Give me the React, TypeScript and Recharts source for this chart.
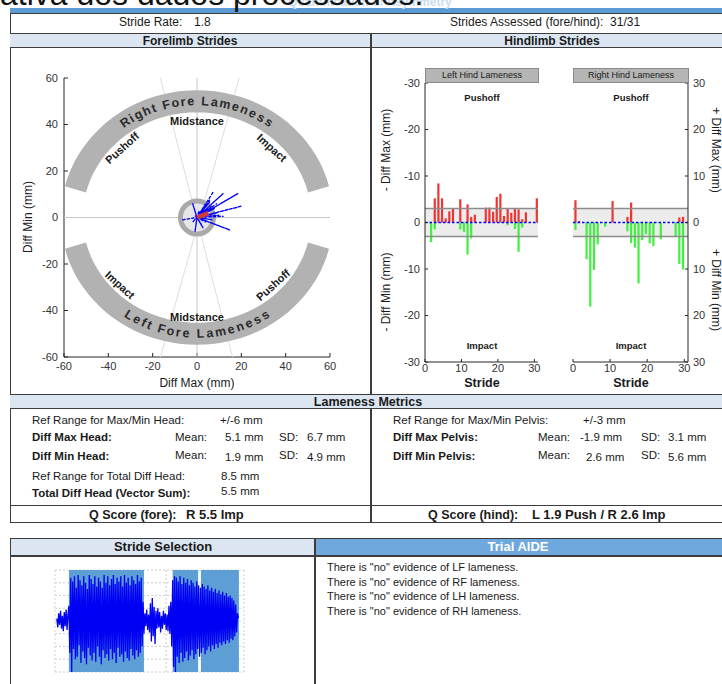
import React from "react";
import {
  ComposedChart,
  Scatter,
  Bar,
  Line,
  XAxis,
  YAxis,
  ReferenceArea,
  ReferenceLine,
  CartesianGrid,
} from "recharts";

const SANS = '"Liberation Sans", Arial, Helvetica, sans-serif';
const AXIS = "#262626";

// ---- forelimb strides (head): diff max on x, diff min on y, mm
const foreDiffMax = [7.4, 11.9, 18.6, 20.1, 14.9, 2.8, -0.9, -2.0, -6.9, 6, 5, 7, 8, 4, 6, 9, 3, 5, 10, 7, 4, 2, 1, -2, 3, 12, 2, -1, 4, 9, 6];
const foreDiffMin = [11.1, 10.4, 10.4, 4.9, -5.4, -4.6, -6.1, 6.1, -1.1, 7, 6, 5, 4, 6, 3, 2, 4, 1, 1, -1, -2, -3, 3, -2, -0.5, 0.5, 2, 1, 2, 6, 8];
const foreMean = [5.1, 1.9];
const foreTicks = [-60, -40, -20, 0, 20, 40, 60];

const phaseLabels = [
  { x: 0, y: 41.5, label: "Midstance", rot: 0 },
  { x: -33.8, y: 30, label: "Pushoff", rot: -42 },
  { x: 33.8, y: 30, label: "Impact", rot: 42 },
  { x: -34.7, y: -29, label: "Impact", rot: 42 },
  { x: 34.3, y: -29, label: "Pushoff", rot: -42 },
  { x: 0, y: -42.8, label: "Midstance", rot: 0 },
];

// ---- hindlimb strides (pelvis), mm
const strides = Array.from({ length: 31 }, (_, i) => i + 1);
const leftHindUp = [0, 0, 5.2, 8.4, 5.2, 0.9, 2.4, 3.0, 0, 5.0, 0, 3.9, 1.2, 1.7, 0, 0, 3.2, 3.2, 2.3, 5.5, 6.2, 1.4, 2.9, 2.1, 3.0, 2.8, 0.7, 2.2, 0, 0, 5.2];
const leftHindDown = [0, -4.2, -1.5, 0, 0, 0, 0, 0, 0, -1.5, -2.0, -6.9, -3.4, 0, 0, 0, 0, 0, 0, 0, 0, 0, -0.6, 0, -1.4, -6.3, -1.1, 0, 0, 0, 0];
const rightHindUp = [4.8, 0.3, 0, 0, 0, 0, 0, 0, 0, 0, 4.6, 0, 0, 0, 1.2, 4.3, 0, 0, 0, 0, 0, 0, 0, 0, 0, 0, 0, 0, 1.1, 1.2, 0];
const rightHindDown = [-1.6, 0, 0, -7.9, -18.1, -10.2, -4.7, 0, -0.9, 0, 0, 0, 0, 0, -1.9, -4.4, -5.4, -13.1, -3.8, -2.5, -4.5, -5.1, 0, -3.6, 0, 0, 0, -3.1, -8.9, -10.1, 0];
const hindTicks = [-30, -20, -10, 0, 10, 20, 30];
const strideTicks = [0, 10, 20, 30];

// ---- stride selection trace (samples from t = 2)
const trace = [
  0.2, -0.5, 0.6, -0.3, 0.8, -0.6, 0.4, -0.8, 0.7, -0.4, 0.9, -0.7, 0.5,
  1.2, -2.5, 3.4, -4.0, 3.1, -2.2, 3.5, -3.0, 2.6, -2.8,
  3.6, -1.9, 3.2, -3.3, 2.8, -2.4, 3.5, -2.9, 3.0, -3.4,
  2.5, -2.1, 3.6, -2.7, 3.3, -3.1, 2.9, -2.5, 3.5, -3.2,
  2.7, -2.0, 3.4, -2.8, 3.1, -3.4, 2.6, -2.3, 3.6, -2.9,
  3.0, -2.6, 3.5, -3.1, 2.8, -2.2, 3.3, -3.0, 3.6, -2.5,
  2.9, -3.3, 3.4, -2.1, 3.1, -2.8, 3.5, -2.6, 2.7, -3.2,
  3.6, -2.4, 3.0, -2.9, 3.4, -3.1, 2.8, -2.2, 3.5, -2.7,
  3.2, -3.0, 2.9, -2.3, 3.6, -2.8, 3.1, -2.5, 3.4, -2.0,
  1.5, -1.0,
  0.6, -0.4, 0.9, -0.7, 0.5, -0.9, 1.4, -1.6, 1.8, -1.2,
  1.1, -1.8, 0.8, -0.6, 1.0, -0.5, 0.7, -0.9, 0.4, -0.6,
  0.8, -0.3, 0.6, -0.7, 0.5, -0.8, 1.2, -1.0, 1.5,
  -2.0, 3.2, -3.6, 3.5, -4.0, 3.4, -2.8, 3.1, -3.3, 3.5,
  -2.5, 2.9, -3.2, 3.4, -2.9, 3.0, -2.4, 3.3, -3.1, 2.8,
  -2.7, 3.2, -2.3, 3.0, -3.0, 2.7, -2.6, 3.1, -2.2, 2.8,
  -2.8, 2.6, -2.5, 2.9, -2.1, 2.7, -2.6, 2.5, -2.3, 2.8,
  -2.0, 2.4, -2.4, 2.6, -1.9, 2.3, -2.2, 2.5, -1.8, 2.2,
  -2.1, 2.4, -1.7, 2.1, -1.9, 2.3, -1.6, 2.0, -1.8, 2.2,
  -1.5, 1.9, -1.7, 2.0, -1.4, 1.8, -1.5, 1.6, -1.2, 1.3,
  -0.9, 0.6, 0.2,
];
const selectedRanges = [
  [15, 96],
  [127, 154.5],
  [157.5, 198.5],
];

const aideLines = [
  'There is "no" evidence of LF lameness.',
  'There is "no" evidence of RF lameness.',
  'There is "no" evidence of LH lameness.',
  'There is "no" evidence of RH lameness.',
];

// ---- geometry helpers for the lameness arcs
const RX = 56.5;
const RY = 50;
const arc = (a0: number, a1: number) =>
  Array.from({ length: 41 }, (_, i) => {
    const a = ((a0 + ((a1 - a0) * i) / 40) * Math.PI) / 180;
    return { x: RX * Math.cos(a), y: RY * Math.sin(a) };
  });
const charW = (ch: string) => (ch === " " ? 0.55 : "ifrtl".includes(ch) ? 0.65 : "mM".includes(ch) ? 1.3 : 1);
const arcText = (text: string, a0: number, a1: number, top: boolean) => {
  const chars = text.split("");
  const w = chars.map(charW);
  const total = w.reduce((s, v) => s + v, 0) - (w[0] + w[w.length - 1]) / 2;
  let acc = 0;
  return chars.map((ch, i) => {
    if (i > 0) acc += (w[i - 1] + w[i]) / 2;
    const a = a0 + ((a1 - a0) * acc) / total;
    const r = (a * Math.PI) / 180;
    return { x: RX * Math.cos(r), y: RY * Math.sin(r), ch, rot: top ? 90 - a : 270 - a };
  });
};

const T = ({ x, y, s = 11.5, b = false, a = "start", c = "#1a1a1a", children }: any) => (
  <div
    style={{
      position: "absolute",
      left: x,
      top: y - s * 0.6,
      fontSize: s,
      lineHeight: `${s * 1.2}px`,
      fontWeight: b ? "bold" : "normal",
      color: c,
      whiteSpace: "pre",
      transform: a === "middle" ? "translateX(-50%)" : a === "end" ? "translateX(-100%)" : undefined,
    }}
  >
    {children}
  </div>
);

const RT = ({ x, y, s = 12, rot = -90, b = false, children }: any) => (
  <div
    style={{
      position: "absolute",
      left: x,
      top: y,
      fontSize: s,
      lineHeight: `${s * 1.2}px`,
      fontWeight: b ? "bold" : "normal",
      color: "#1a1a1a",
      whiteSpace: "pre",
      transform: `translate(-50%, -50%) rotate(${rot}deg)`,
    }}
  >
    {children}
  </div>
);

const Box = ({ x, y, w, h, bg = "transparent", style }: any) => (
  <div style={{ position: "absolute", left: x, top: y, width: w, height: h, background: bg, ...style }} />
);

const noLine = () => null;
const tick11 = { fontSize: 11, fill: "#333", fontFamily: SANS };

function ForelimbChart() {
  const star = foreDiffMax.flatMap((x, i) => [
    { x: 0, y: 0 },
    { x, y: foreDiffMin[i] },
  ]);
  const mean = [
    { x: 0, y: 0 },
    { x: foreMean[0], y: foreMean[1] },
  ];
  const letterShape = (p: any) => (
    <text
      x={p.cx}
      y={p.cy}
      textAnchor="middle"
      dominantBaseline="central"
      transform={`rotate(${p.payload.rot} ${p.cx} ${p.cy})`}
      fontSize={12.5}
      fontWeight="bold"
      fontFamily={SANS}
      fill="#2a2a2a"
    >
      {p.payload.ch}
    </text>
  );
  const phaseShape = (p: any) => (
    <text
      x={p.cx}
      y={p.cy}
      textAnchor="middle"
      dominantBaseline="central"
      transform={`rotate(${p.payload.rot} ${p.cx} ${p.cy})`}
      fontSize={11}
      fontWeight="bold"
      fontFamily={SANS}
      fill="#1a1a1a"
    >
      {p.payload.label}
    </text>
  );
  const guide = (stroke: string) => ({ stroke, strokeWidth: 1 });
  return (
    <ComposedChart width={361} height={347} margin={{ top: 30, right: 41, bottom: 18, left: 24 }}>
      <XAxis type="number" dataKey="x" domain={[-60, 60]} ticks={foreTicks} allowDataOverflow height={20}
        tickSize={-4} tickMargin={9} stroke={AXIS} tick={tick11} />
      <XAxis xAxisId="top" orientation="top" type="number" dataKey="x" domain={[-60, 60]} ticks={foreTicks}
        height={0} tickSize={-4} tickFormatter={() => ""} stroke={AXIS} />
      <YAxis type="number" dataKey="y" domain={[-60, 60]} ticks={foreTicks} allowDataOverflow width={30}
        tickSize={-4} tickMargin={10} stroke={AXIS} tick={tick11} />
      <YAxis yAxisId="right" orientation="right" type="number" dataKey="y" domain={[-60, 60]} ticks={foreTicks}
        width={0} tickSize={-4} tickFormatter={() => ""} stroke={AXIS} />
      <Scatter data={[{ x: -60, y: 0 }, { x: 60, y: 0 }]} line={guide("#c8c8c8")} lineType="joint" shape={noLine} isAnimationActive={false} />
      <Scatter data={[{ x: 0, y: -60 }, { x: 0, y: 60 }]} line={guide("#c8c8c8")} lineType="joint" shape={noLine} isAnimationActive={false} />
      <Scatter data={[{ x: -16.5, y: 60 }, { x: 16, y: -60 }]} line={guide("#dedede")} lineType="joint" shape={noLine} isAnimationActive={false} />
      <Scatter data={[{ x: 19, y: 60 }, { x: -16.5, y: -60 }]} line={guide("#dedede")} lineType="joint" shape={noLine} isAnimationActive={false} />
      <Scatter data={arc(14, 166)} line={{ stroke: "#b2b2b2", strokeWidth: 22 }} lineType="joint" shape={noLine} isAnimationActive={false} />
      <Scatter data={arc(194, 346)} line={{ stroke: "#b2b2b2", strokeWidth: 22 }} lineType="joint" shape={noLine} isAnimationActive={false} />
      <Scatter data={arcText("Right Fore Lameness", 125, 55, true)} shape={letterShape} isAnimationActive={false} />
      <Scatter data={arcText("Left Fore Lameness", 237, 303, false)} shape={letterShape} isAnimationActive={false} />
      <Scatter data={phaseLabels} shape={phaseShape} isAnimationActive={false} />
      <Scatter data={[{ x: 0, y: 0 }]} isAnimationActive={false}
        shape={(p: any) => <circle cx={p.cx} cy={p.cy} r={16.5} fill="#e6e6e6" stroke="#a9a9a9" strokeWidth={5} />} />
      <Scatter data={star} line={{ stroke: "#0000ff", strokeWidth: 1.3, strokeDasharray: "3 1.5" }} lineType="joint" shape={noLine} isAnimationActive={false} />
      <Scatter data={mean} line={{ stroke: "#d33a3a", strokeWidth: 4.5 }} lineType="joint" shape={noLine} isAnimationActive={false} />
    </ComposedChart>
  );
}

function HindChart({ up, down, side }: { up: number[]; down: number[]; side: "left" | "right" }) {
  const data = strides.map((s, i) => ({ s, up: up[i], down: down[i] }));
  const isLeft = side === "left";
  const labelFmt = (v: number) => (isLeft ? (v === 0 ? "0" : `-${Math.abs(v)}`) : `${Math.abs(v)}`);
  return (
    <ComposedChart
      width={isLeft ? 180 : 170}
      height={347}
      data={data}
      stackOffset="sign"
      margin={isLeft ? { top: 35, right: 14, bottom: 17, left: 27 } : { top: 35, right: 8, bottom: 17, left: 21 }}
    >
      <XAxis type="number" dataKey={(d: any) => d.s - 0.4} domain={[0, 31]} ticks={strideTicks} allowDataOverflow
        height={16} tickSize={-3} tickMargin={5} stroke={AXIS} tick={tick11} />
      <XAxis xAxisId="top" orientation="top" type="number" domain={[0, 31]} height={0} tick={false} stroke={AXIS} />
      <YAxis type="number" orientation={side} domain={[-30, 30]} ticks={hindTicks} allowDataOverflow width={26}
        tickSize={-3} tickMargin={8} tickFormatter={labelFmt} stroke={AXIS} tick={tick11} />
      <YAxis yAxisId="other" orientation={isLeft ? "right" : "left"} type="number" domain={[-30, 30]} ticks={hindTicks}
        width={0} tickSize={-3} tickFormatter={() => ""} stroke={isLeft ? AXIS : "#777"} />
      <ReferenceArea y1={-3} y2={3} fill="#ececec" fillOpacity={1} stroke="none" />
      <ReferenceLine y={3} stroke="#8c8c8c" strokeWidth={1.5} />
      <ReferenceLine y={-3} stroke="#8c8c8c" strokeWidth={1.5} />
      <Bar dataKey="up" stackId="s" fill="#f03434" barSize={2.2} isAnimationActive={false} />
      <Bar dataKey="down" stackId="s" fill="#3ff03f" barSize={2.2} isAnimationActive={false} />
      <ReferenceLine y={0} stroke="#0000ff" strokeWidth={1.5} strokeDasharray="2.5 2" />
    </ComposedChart>
  );
}

function TraceChart() {
  const data = trace.map((v, i) => ({ t: i + 2, v }));
  return (
    <ComposedChart width={220} height={120} data={data} margin={{ top: 10, right: 16, bottom: 8, left: 15 }}>
      <CartesianGrid stroke="#cfcfcf" strokeDasharray="2 2" />
      <XAxis type="number" dataKey="t" domain={[0, 204]} ticks={[0, 60, 120, 180]} height={0} tickSize={-3}
        tickFormatter={() => ""} stroke="#7a7a7a" />
      <XAxis xAxisId="top" orientation="top" type="number" domain={[0, 204]} ticks={[0, 60, 120, 180]} height={0}
        tickSize={-3} tickFormatter={() => ""} stroke="#7a7a7a" />
      <YAxis type="number" domain={[-4, 4]} ticks={[-4, -3, -2, -1, 0, 1, 2, 3, 4]} width={0} tickSize={-3}
        tickFormatter={() => ""} stroke="#7a7a7a" />
      <YAxis yAxisId="right" orientation="right" type="number" domain={[-4, 4]} ticks={[-4, -3, -2, -1, 0, 1, 2, 3, 4]}
        width={0} tickSize={-3} tickFormatter={() => ""} stroke="#7a7a7a" />
      {selectedRanges.map(([a, b]) => (
        <ReferenceArea key={a} x1={a} x2={b} y1={-4} y2={4} fill="#5d9fd4" fillOpacity={1} stroke="none" />
      ))}
      <Line dataKey="v" stroke="#0000f5" strokeWidth={1.3} dot={false} isAnimationActive={false} />
    </ComposedChart>
  );
}

export default function App() {
  const border = "#3c3c3c";
  const headBg = "#dce6f2";
  return (
    <div style={{ position: "absolute", left: 0, top: 0, width: 722, height: 684, overflow: "hidden", background: "#fff", fontFamily: SANS }}>
      {/* page heading remnants */}
      <Box x={10} y={8} w={720} h={5} bg="#5b9bd5" />
      <T x={370} y={2} s={12} b a="middle" c="#c9dcf0">Quantification of Asymmetry</T>
      <div style={{ position: "absolute", left: 0, top: -22, fontSize: 32, lineHeight: "32px", color: "#111", whiteSpace: "pre" }}>
        ativa dos dados processados.
      </div>

      {/* main table frame */}
      <Box x={10} y={13} w={720} h={510} style={{ border: `1.5px solid ${border}`, boxSizing: "border-box" }} />
      <Box x={10} y={33} w={720} h={15} bg={headBg} style={{ borderTop: `1.5px solid ${border}`, borderBottom: `1.5px solid ${border}`, boxSizing: "border-box" }} />
      <Box x={10} y={394} w={720} h={15} bg={headBg} style={{ borderTop: `1.5px solid ${border}`, borderBottom: `1px solid ${border}`, boxSizing: "border-box" }} />
      <Box x={10} y={505} w={720} h={2} style={{ borderTop: `1.5px solid ${border}` }} />
      <Box x={370} y={33} w={2} h={362} bg={border} />
      <Box x={370} y={409} w={2} h={114} bg={border} />

      <T x={119} y={22} s={12}>Stride Rate:</T>
      <T x={194} y={22} s={12}>1.8</T>
      <T x={450} y={22} s={12}>{"Strides Assessed (fore/hind):  31/31"}</T>
      <T x={190} y={41} s={12} b a="middle">Forelimb Strides</T>
      <T x={552} y={41} s={12} b a="middle">Hindlimb Strides</T>

      {/* forelimb */}
      <div style={{ position: "absolute", left: 10, top: 48 }}>
        <ForelimbChart />
      </div>
      <RT x={28} y={217} s={12}>Diff Min (mm)</RT>
      <T x={197} y={383} s={12} a="middle">Diff Max (mm)</T>

      {/* hindlimb */}
      <div style={{ position: "absolute", left: 372, top: 48 }}>
        <HindChart up={leftHindUp} down={leftHindDown} side="left" />
      </div>
      <div style={{ position: "absolute", left: 552, top: 48 }}>
        <HindChart up={rightHindUp} down={rightHindDown} side="right" />
      </div>
      <Box x={425} y={68} w={114} h={15} bg="#b5b5b5" style={{ border: "1px solid #8a8a8a", boxSizing: "border-box" }} />
      <Box x={573} y={68} w={116} h={15} bg="#b5b5b5" style={{ border: "1px solid #8a8a8a", boxSizing: "border-box" }} />
      <T x={482} y={75.5} s={9} a="middle">Left Hind Lameness</T>
      <T x={631} y={75.5} s={9} a="middle">Right Hind Lameness</T>
      <T x={482} y={98} s={9.5} b a="middle">Pushoff</T>
      <T x={631} y={98} s={9.5} b a="middle">Pushoff</T>
      <T x={482} y={346} s={9.5} b a="middle">Impact</T>
      <T x={631} y={346} s={9.5} b a="middle">Impact</T>
      <T x={482} y={383} s={12.5} b a="middle">Stride</T>
      <T x={631} y={383} s={12.5} b a="middle">Stride</T>
      <RT x={386} y={150} s={12} rot={-90}>- Diff Max (mm)</RT>
      <RT x={386} y={292} s={12} rot={-90}>- Diff Min (mm)</RT>
      <RT x={716} y={150} s={12} rot={90}>+ Diff Max (mm)</RT>
      <RT x={716} y={290} s={12} rot={90}>+ Diff Min (mm)</RT>

      {/* lameness metrics */}
      <T x={368} y={402} s={12.5} b a="middle">Lameness Metrics</T>
      <T x={32} y={421}>Ref Range for Max/Min Head:</T>
      <T x={220} y={421}>+/-6 mm</T>
      <T x={32} y={437.5} b>Diff Max Head:</T>
      <T x={207} y={437.5} a="end">Mean:</T>
      <T x={225} y={437.5}>5.1 mm</T>
      <T x={279} y={437.5}>SD:</T>
      <T x={307} y={437.5}>6.7 mm</T>
      <T x={32} y={457} b>Diff Min Head:</T>
      <T x={207} y={456} a="end">Mean:</T>
      <T x={225} y={458}>1.9 mm</T>
      <T x={279} y={456}>SD:</T>
      <T x={307} y={458}>4.9 mm</T>
      <T x={32} y={477}>Ref Range for Total Diff Head:</T>
      <T x={221} y={477}>8.5 mm</T>
      <T x={32} y={494} b>Total Diff Head (Vector Sum):</T>
      <T x={221} y={492}>5.5 mm</T>

      <T x={393} y={421}>Ref Range for Max/Min Pelvis:</T>
      <T x={583} y={421}>+/-3 mm</T>
      <T x={393} y={437.5} b>Diff Max Pelvis:</T>
      <T x={570} y={437.5} a="end">Mean:</T>
      <T x={580} y={437.5}>-1.9 mm</T>
      <T x={641} y={437.5}>SD:</T>
      <T x={668} y={437.5}>3.1 mm</T>
      <T x={393} y={457} b>Diff Min Pelvis:</T>
      <T x={570} y={456} a="end">Mean:</T>
      <T x={586} y={458}>2.6 mm</T>
      <T x={641} y={456}>SD:</T>
      <T x={668} y={458}>5.6 mm</T>

      <T x={89} y={515} s={12.5} b>Q Score (fore):</T>
      <T x={186} y={515} s={13} b>R 5.5 Imp</T>
      <T x={428} y={515} s={12.5} b>Q Score (hind):</T>
      <T x={532} y={515} s={13} b>L 1.9 Push / R 2.6 Imp</T>

      {/* stride selection / trial aide */}
      <Box x={10} y={538} w={720} h={160} style={{ border: `1.5px solid ${border}`, boxSizing: "border-box" }} />
      <Box x={11} y={539} w={304} h={16} bg={headBg} />
      <Box x={316} y={539} w={414} h={16} bg="#6fa8dc" />
      <Box x={10} y={555} w={720} h={1.5} bg={border} />
      <Box x={314} y={538} w={2} h={146} bg={border} />
      <T x={163} y={547} s={13} b a="middle">Stride Selection</T>
      <T x={518} y={547} s={13} b a="middle" c="#fff">Trial AIDE</T>
      <div style={{ position: "absolute", left: 40, top: 560 }}>
        <TraceChart />
      </div>
      {aideLines.map((l, i) => (
        <T key={l} x={327} y={568 + i * 14.4} s={11}>{l}</T>
      ))}
    </div>
  );
}
